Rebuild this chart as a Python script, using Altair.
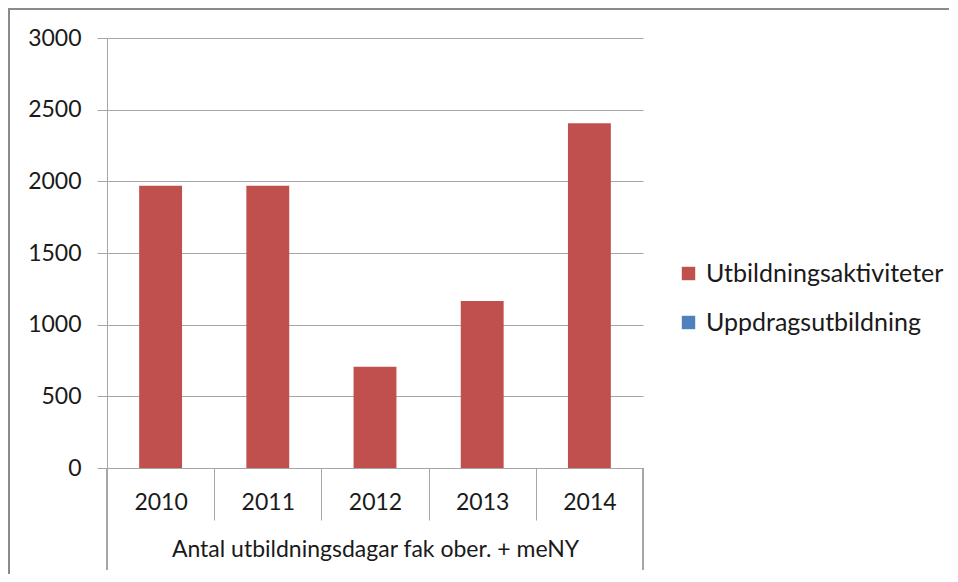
import altair as alt
import pandas as pd

years = ["2010", "2011", "2012", "2013", "2014"]
utbildning = [1970, 1970, 707, 1165, 2405]
uppdrag = [0, 0, 0, 0, 0]
series = ["Utbildningsaktiviteter", "Uppdragsutbildning"]
colors = ["#C0504D", "#4F81BD"]
y_ticks = [0, 500, 1000, 1500, 2000, 2500, 3000]
group_label = "Antal utbildningsdagar fak ober. + meNY"

rows = []
for i, y in enumerate(years):
    rows.append({"year": y, "series": series[0], "value": utbildning[i], "order": 0})
    rows.append({"year": y, "series": series[1], "value": uppdrag[i], "order": 1})
df = pd.DataFrame(rows)

FONT = "Lato"
GRID = "#a6a6a6"
W, H = 536, 430

bars = alt.Chart(df).mark_bar(width=alt.RelativeBandSize(0.4)).encode(
    x=alt.X("year:N", sort=years,
            scale=alt.Scale(paddingInner=0, paddingOuter=0),
            axis=alt.Axis(title=group_label, labelAngle=0, tickBand="extent",
                          tickSize=52, tickColor=GRID, tickWidth=1,
                          domainColor=GRID, domainWidth=1,
                          labelFontSize=23, labelFont=FONT, labelColor="#1a1a1a",
                          labelPadding=-18, labelBaseline="middle",
                          titleFontSize=23, titleFont=FONT, titleFontWeight="normal",
                          titleColor="#1a1a1a", titlePadding=18, grid=False)),
    y=alt.Y("value:Q", stack="zero",
            scale=alt.Scale(domain=[0, 3000], nice=False),
            axis=alt.Axis(title=None, values=y_ticks, format="d", tickSize=10,
                          tickColor=GRID, gridColor=GRID, gridWidth=1, domainColor=GRID,
                          labelFontSize=23, labelFont=FONT, labelColor="#1a1a1a",
                          labelPadding=16)),
    color=alt.Color("series:N", sort=series,
                    scale=alt.Scale(domain=series, range=colors),
                    legend=alt.Legend(title=None, orient="none", legendX=569, legendY=223,
                                      symbolType="square", symbolSize=180,
                                      symbolStrokeWidth=0, labelLimit=0,
                                      labelFontSize=25, labelFont=FONT,
                                      labelColor="#1a1a1a", rowPadding=23,
                                      labelOffset=5)),
    order=alt.Order("order:Q"),
)

outer_left = alt.Chart(df).mark_rule(color=GRID, strokeWidth=1).encode(
    x=alt.value(0), y=alt.value(H), y2=alt.value(H + 102))
outer_right = alt.Chart(df).mark_rule(color=GRID, strokeWidth=1).encode(
    x=alt.value(W), y=alt.value(H), y2=alt.value(H + 102))
border_top = alt.Chart(df).mark_rule(color="#8a8a8a", strokeWidth=2).encode(
    x=alt.value(-98), x2=alt.value(842), y=alt.value(-29))
border_left = alt.Chart(df).mark_rule(color="#8a8a8a", strokeWidth=2).encode(
    x=alt.value(-98), y=alt.value(-30), y2=alt.value(540))

chart = alt.layer(bars, outer_left, outer_right, border_top, border_left).properties(
    width=W, height=H,
    autosize=alt.AutoSizeParams(type="none"),
    padding={"left": 99, "top": 30, "right": 307, "bottom": 106},
    background="white",
).configure_view(stroke=None)

chart.save("out.html", embed_options={"renderer": "svg", "actions": False})
